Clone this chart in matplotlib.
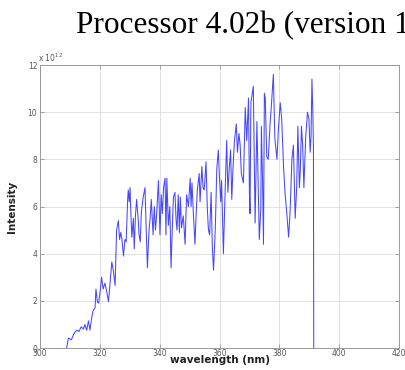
import matplotlib
matplotlib.use("Agg")
import matplotlib.pyplot as plt

# wavelength (nm) and intensity (in units of 1e12)
wavelength = [308.9, 309.5, 310.5, 311.3, 312.3, 313.0, 313.8, 314.5, 315.0, 315.6,
              316.2, 316.7, 317.3, 317.8, 318.4, 318.7, 319.2, 319.6, 320.1, 320.6,
              321.1, 321.7, 322.3, 322.9, 323.5, 324.0, 324.5, 325.1, 325.6, 326.2,
              326.6, 327.0, 327.4, 327.9, 328.4, 328.8, 329.3, 329.5, 329.8, 330.1,
              330.4, 330.7, 331.2, 331.5, 331.9, 332.3, 332.8, 333.1, 333.5, 333.9,
              334.5, 335.1, 335.5, 335.9, 336.4, 336.8, 337.2, 337.8, 338.2, 338.6,
              338.9, 339.3, 339.6, 340.1, 340.5, 340.9, 341.3, 341.8, 342.1, 342.4,
              342.9, 343.4, 343.8, 344.2, 344.6, 345.1, 345.5, 345.8, 346.2, 346.6,
              346.9, 347.3, 347.9, 348.5, 349.0, 349.6, 350.2, 350.5, 350.8, 351.3,
              351.8, 352.1, 352.6, 353.2, 353.5, 354.1, 354.5, 354.9, 355.5, 355.9,
              356.3, 356.7, 357.2, 357.6, 358.0, 358.6, 359.1, 359.6, 360.0, 360.4,
              360.7, 361.3, 361.8, 362.4, 362.8, 363.2, 363.7, 364.1, 364.5, 365.0,
              365.6, 366.0, 366.5, 366.9, 367.3, 368.0, 368.6, 369.1, 369.7, 370.0,
              370.2, 370.5, 371.3, 371.9, 372.5, 373.0, 373.3, 373.8, 374.0, 374.4,
              374.7, 375.0, 375.3, 375.8, 376.3, 376.9, 377.3, 378.0, 378.5, 379.2,
              379.7, 380.3, 380.8, 381.4, 381.9, 382.5, 383.1, 383.6, 384.2, 384.7,
              385.3, 385.8, 386.2, 386.7, 387.0, 387.4, 387.8, 388.2, 388.8, 389.4,
              389.9, 390.3, 390.6, 390.9, 391.2, 391.4, 391.5]
intensity = [0.0, 0.42, 0.35, 0.6, 0.76, 0.7, 0.9, 0.8, 1.0, 0.75,
             1.15, 0.76, 1.3, 1.6, 1.7, 2.5, 1.95, 1.9, 2.4, 3.0,
             2.5, 2.75, 2.4, 1.96, 2.9, 3.65, 3.3, 2.65, 5.0, 5.4,
             4.6, 4.9, 4.6, 3.9, 4.6, 4.5, 6.3, 6.7, 6.2, 6.8,
             5.6, 4.7, 5.5, 4.2, 5.6, 6.3, 5.5, 4.8, 4.5, 5.8,
             6.4, 6.8, 5.0, 3.4, 4.9, 5.5, 6.3, 4.8, 6.0, 5.0,
             5.5, 6.4, 7.1, 4.8, 6.5, 5.7, 6.8, 7.2, 4.8, 7.2,
             5.2, 6.0, 3.4, 5.0, 6.4, 6.6, 5.4, 5.0, 6.5, 4.9,
             6.4, 5.1, 5.6, 4.4, 6.5, 6.0, 7.2, 6.0, 7.0, 5.6,
             4.4, 5.4, 6.7, 7.4, 6.2, 7.7, 6.8, 6.7, 7.9, 6.0,
             5.0, 4.8, 6.6, 4.3, 3.3, 5.1, 7.6, 8.4, 7.2, 6.2,
             7.1, 4.0, 6.3, 8.8, 6.6, 7.5, 8.4, 6.3, 7.6, 8.8,
             9.5, 8.3, 9.1, 8.6, 7.4, 7.0, 10.2, 8.8, 10.6, 6.6,
             5.7, 10.4, 11.1, 5.3, 9.6, 6.5, 4.6, 5.9, 9.4, 7.0,
             4.4, 10.8, 10.6, 8.1, 8.0, 9.5, 10.2, 11.6, 8.9, 8.0,
             9.3, 10.4, 9.7, 7.7, 6.6, 5.7, 4.7, 5.8, 8.0, 8.6,
             5.5, 6.8, 9.4, 6.8, 7.5, 9.4, 8.6, 6.8, 8.9, 10.0,
             9.7, 8.3, 9.0, 11.4, 10.0, 8.5, 0.0]

x_ticks = [300, 320, 340, 360, 380, 400, 420]
y_ticks = [0, 2, 4, 6, 8, 10, 12]

fig = plt.figure(figsize=(4.05, 3.70), dpi=100)
ax = fig.add_axes([40/405, 1-348/370, 359/405, 283/370])

ax.plot(wavelength, intensity, color="#4646ff", lw=0.75)

ax.set_xlim(300, 420)
ax.set_ylim(0, 12)
ax.set_xticks(x_ticks)
ax.set_yticks(y_ticks)
ax.tick_params(direction="in", labelsize=5.5, labelcolor="#555555", color="#888888",
               length=3, width=0.5, pad=2, top=True, right=True)
ax.tick_params(axis="x", pad=1)
ax.grid(True, color="#dddddd", lw=0.6)
for s in ax.spines.values():
    s.set_color("#999999")
    s.set_linewidth(0.7)

ax.set_xlabel("wavelength (nm)", fontsize=7.5, fontweight="bold", color="#222222")
ax.xaxis.set_label_coords(0.5, -0.025)
ax.set_ylabel("Intensity", fontsize=7.5, fontweight="bold", color="#222222")
ax.yaxis.set_label_coords(-0.065, 0.5)

fig.text(38/405, 1-62/370, r"x 10$^{12}$", fontsize=5.5, color="#555555", ha="left", va="baseline")

fig.text(76/405, 1-33/370, "Processor 4.02b (version 1.0)", fontsize=22.5,
         family="Liberation Serif", ha="left", va="baseline", color="black")

fig.savefig("out.png", dpi=100)
